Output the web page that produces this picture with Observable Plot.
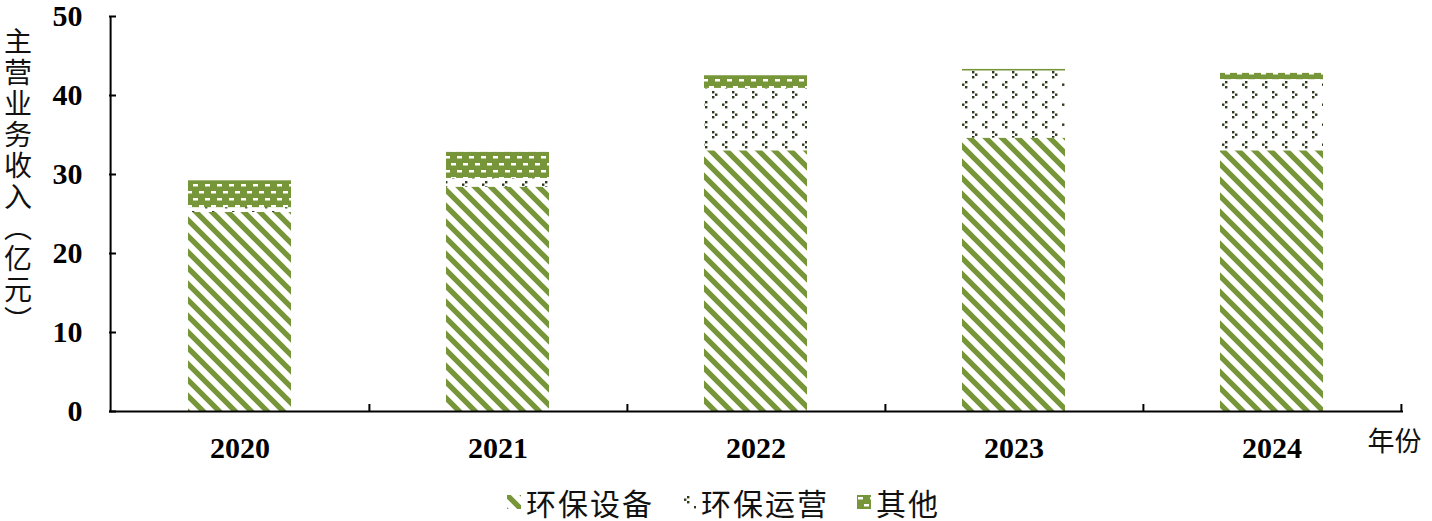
<!DOCTYPE html>
<html><head><meta charset="utf-8">
<script src="https://cdn.jsdelivr.net/npm/d3@7"></script>
<script src="https://cdn.jsdelivr.net/npm/@observablehq/plot@0.6"></script>
<style>
body{margin:0;background:#fff;}
#wrap{position:relative;width:1432px;height:521px;background:#fff;}
#ylabel{position:absolute;left:3px;top:27px;writing-mode:vertical-rl;font-family:"Noto Sans CJK SC";font-size:28px;line-height:29px;letter-spacing:3px;color:#111;}
#legend{display:flex;justify-content:center;align-items:center;height:51px;box-sizing:border-box;padding-top:12px;padding-left:15px;font-family:"Noto Sans CJK SC";font-size:30px;letter-spacing:2px;color:#111;}
.item{display:flex;align-items:center;margin:0 14px;}
.item svg{margin-right:5px;}
</style></head>
<body>
<div id="wrap">
<div id="chart"></div>
<div id="legend"></div>
<div id="ylabel">主营业务收入（亿元）</div>
</div>
<script>
const years = ["2020", "2021", "2022", "2023", "2024"];
const seriesNames = ["环保设备", "环保运营", "其他"];
const equipment = [25.2, 28.4, 33.0, 34.6, 33.0];
const operation = [0.6, 1.1, 7.9, 8.5, 9.0];
const other = [3.4, 3.3, 1.6, 0.2, 0.8];
const yTicks = [0, 10, 20, 30, 40, 50];

const green = "#77963a";
const dotColor = "#2e3b1c";
const fills = {"环保设备": "url(#pEquip)", "环保运营": "url(#pOper)", "其他": "url(#pOther)"};

const data = years.flatMap((y, i) => [
  {year: y, series: seriesNames[0], value: equipment[i]},
  {year: y, series: seriesNames[1], value: operation[i]},
  {year: y, series: seriesNames[2], value: other[i]}
]);

const W = 1432, H = 470, ml = 109, mr = 29, mt = 16, mb = 59;
const frameW = W - ml - mr, frameH = H - mt - mb;
const step = frameW / (years.length - 0.6 + 2 * 0.3);

const chart = Plot.plot({
  width: W, height: H,
  marginLeft: ml, marginRight: mr, marginTop: mt, marginBottom: mb,
  style: {fontFamily: "'Liberation Serif', serif", fontWeight: "bold", fontSize: "30px", color: "#000", background: "#fff", overflow: "visible"},
  x: {domain: years, paddingInner: 0.6, paddingOuter: 0.3, label: null},
  y: {domain: [0, 50], label: null},
  color: {type: "identity"},
  marks: [
    Plot.barY(data, {x: "year", y: "value", z: "series", fill: d => fills[d.series]}),
    Plot.ruleY([0], {strokeWidth: 2, stroke: "#000"}),
    Plot.ruleX(years.slice(0, 1), {x: d => d, dx: -step / 2, strokeWidth: 2, stroke: "#000"}),
    Plot.ruleY(yTicks, {y: d => d, insetRight: frameW - 7, strokeWidth: 2, stroke: "#000"}),
    Plot.ruleX(years, {x: d => d, dx: step / 2, insetTop: frameH - 7, strokeWidth: 2, stroke: "#000"}),
    Plot.axisY({ticks: yTicks, tickSize: 0, tickPadding: 27, label: null}),
    Plot.axisX({tickSize: 0, tickPadding: 25, label: null}),
    Plot.text(["年份"], {frameAnchor: "bottom-right", text: d => d, dx: -36, dy: 39, textAnchor: "start", fontFamily: "Noto Sans CJK SC", fontWeight: "normal", fontSize: 27, fill: "#111"})
  ]
});
document.getElementById("chart").appendChild(chart);

const defs = d3.select(chart).append("defs");
// equipment: wide downward diagonal stripes
const p1 = defs.append("pattern").attr("id", "pEquip").attr("patternUnits", "userSpaceOnUse").attr("width", 16).attr("height", 16);
p1.append("rect").attr("width", 16).attr("height", 16).attr("fill", "#fff");
p1.append("path").attr("d", "M-4,-4L20,20M-4,12L4,20M12,-4L20,4").attr("stroke", green).attr("stroke-width", 5.4);
// operation: chevron dots
const p2 = defs.append("pattern").attr("id", "pOper").attr("patternUnits", "userSpaceOnUse").attr("width", 20).attr("height", 20);
p2.append("rect").attr("width", 20).attr("height", 20).attr("fill", "#fff");
[[5,1],[2,3.5],[5,6],[12,11],[15,13.5],[12,16]].forEach(([x, y]) =>
  p2.append("rect").attr("x", x).attr("y", y).attr("width", 2.4).attr("height", 2.4).attr("fill", dotColor));
// other: green with white brick dashes
const p3 = defs.append("pattern").attr("id", "pOther").attr("patternUnits", "userSpaceOnUse").attr("width", 12).attr("height", 14);
p3.append("rect").attr("width", 12).attr("height", 14).attr("fill", green);
p3.append("rect").attr("x", 1).attr("y", 2).attr("width", 5).attr("height", 2.5).attr("fill", "#fff");
p3.append("rect").attr("x", 7).attr("y", 9).attr("width", 5).attr("height", 2.5).attr("fill", "#fff");

// legend
const legend = d3.select("#legend");
seriesNames.forEach(name => {
  const item = legend.append("div").attr("class", "item");
  item.append("svg").attr("width", 14).attr("height", 14)
    .append("rect").attr("width", 14).attr("height", 14).attr("fill", fills[name]);
  item.append("span").text(name);
});
</script>
</body></html>
